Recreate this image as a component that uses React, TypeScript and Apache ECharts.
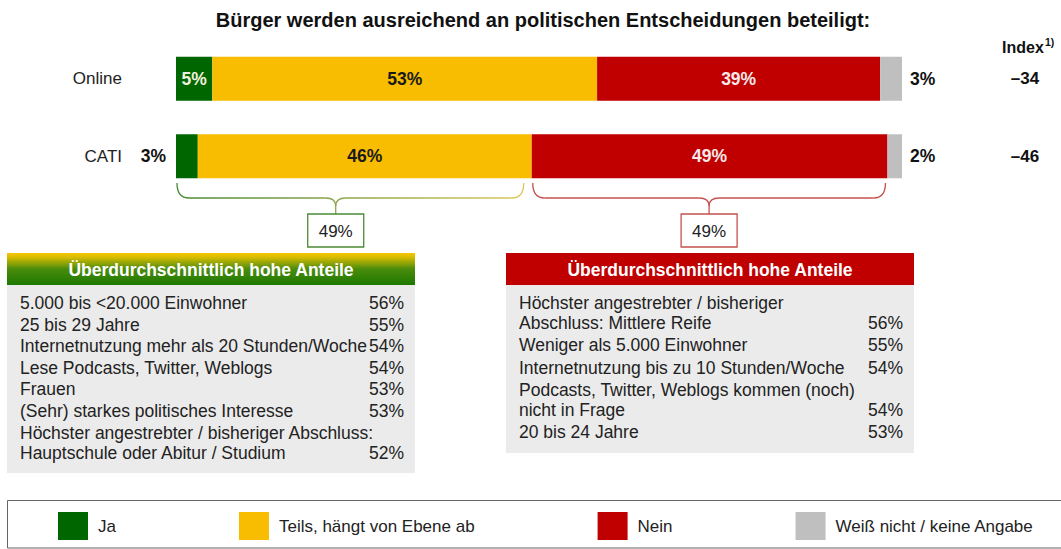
import React, { useEffect, useRef } from "react";
import * as echarts from "echarts";

const FONT = "'Liberation Sans', Arial, Helvetica, sans-serif";

const title = "Bürger werden ausreichend an politischen Entscheidungen beteiligt:";
const categories = ["Online", "CATI"];
const seriesNames = ["Ja", "Teils, hängt von Ebene ab", "Nein", "Weiß nicht / keine Angabe"];
const jaValues = [5, 3];
const teilsValues = [53, 46];
const neinValues = [39, 49];
const wnValues = [3, 2];
const indexValues = ["–34", "–46"];
const indexTitle = "Index";
const indexNote = "1)";

const braceLeftLabel = "49%";
const braceRightLabel = "49%";

const boxTitle = "Überdurchschnittlich hohe Anteile";
const leftItems = [
  "5.000 bis <20.000 Einwohner",
  "25 bis 29 Jahre",
  "Internetnutzung mehr als 20 Stunden/Woche",
  "Lese Podcasts, Twitter, Weblogs",
  "Frauen",
  "(Sehr) starkes politisches Interesse",
  "Höchster angestrebter / bisheriger Abschluss:\nHauptschule oder Abitur / Studium",
];
const leftValues = ["56%", "55%", "54%", "54%", "53%", "53%", "52%"];
const rightItems = [
  "Höchster angestrebter / bisheriger\nAbschluss: Mittlere Reife",
  "Weniger als 5.000 Einwohner",
  "Internetnutzung bis zu 10 Stunden/Woche",
  "Podcasts, Twitter, Weblogs kommen (noch)\nnicht in Frage",
  "20 bis 24 Jahre",
];
const rightValues = ["56%", "55%", "54%", "54%", "53%"];

const COLORS = ["#006600", "#f8bd00", "#c00000", "#bfbfbf"];

export default function App() {
  const ref = useRef<HTMLDivElement>(null);

  useEffect(() => {
    if (!ref.current) return;
    const chart = echarts.init(ref.current, null, { renderer: "svg" });

    const labelBase = {
      show: true,
      formatter: "{c}%",
      fontFamily: FONT,
      fontWeight: "bold" as const,
      fontSize: 17.5,
    };

    const jaData = jaValues.map((v) =>
      v < 4
        ? { value: v, label: { position: "left", distance: 10, color: "#111" } }
        : { value: v }
    );

    chart.setOption({
      animation: false,
      textStyle: { fontFamily: FONT },
      grid: { left: 176, right: 159, top: 40, height: 155 },
      xAxis: { type: "value", min: 0, max: 100, show: false },
      yAxis: [
        {
          type: "category",
          data: categories,
          inverse: true,
          axisLine: { show: false },
          axisTick: { show: false },
          axisLabel: { fontSize: 17, color: "#222", margin: 54, fontFamily: FONT },
        },
        {
          type: "category",
          data: categories,
          inverse: true,
          position: "right",
          axisLine: { show: false },
          axisTick: { show: false },
          axisLabel: {
            fontSize: 17,
            fontWeight: "bold",
            color: "#111",
            margin: 123,
            align: "center",
            fontFamily: FONT,
            formatter: (_v: string, i: number) => indexValues[i],
          },
        },
      ],
      legend: {
        data: seriesNames,
        left: 53,
        top: 507,
        itemWidth: 30,
        itemHeight: 28,
        itemGap: 123,
        icon: "rect",
        selectedMode: false,
        textStyle: { fontSize: 17, color: "#222", fontFamily: FONT, padding: [0, 0, 0, 5] },
      },
      series: [
        {
          name: seriesNames[0],
          type: "bar",
          stack: "t",
          barWidth: 44,
          data: jaData,
          itemStyle: { color: COLORS[0] },
          label: { ...labelBase, position: "inside", color: "#f0f0dc" },
        },
        {
          name: seriesNames[1],
          type: "bar",
          stack: "t",
          barWidth: 44,
          data: teilsValues,
          itemStyle: { color: COLORS[1] },
          label: { ...labelBase, position: "inside", color: "#1a1a1a" },
        },
        {
          name: seriesNames[2],
          type: "bar",
          stack: "t",
          barWidth: 44,
          data: neinValues,
          itemStyle: { color: COLORS[2] },
          label: { ...labelBase, position: "inside", color: "#f6eaea" },
        },
        {
          name: seriesNames[3],
          type: "bar",
          stack: "t",
          barWidth: 44,
          data: wnValues,
          itemStyle: { color: COLORS[3] },
          label: { ...labelBase, position: "right", distance: 8, color: "#111" },
        },
      ],
    });

    const px = (v: number) => chart.convertToPixel({ xAxisIndex: 0 }, v) as number;

    const catiIdx = 1;
    const leftEnd = jaValues[catiIdx] + teilsValues[catiIdx];
    const rightEnd = leftEnd + neinValues[catiIdx];

    const yTop = 183;
    const yMid = 198;
    const yCusp = 206;
    const yEnd = 214;

    const brace = (x1: number, x2: number, tip: number, stroke: any) => {
      const st = { stroke, lineWidth: 1.3, fill: null };
      return [
        { type: "bezierCurve", shape: { x1, y1: yTop, cpx1: x1, cpy1: yMid, x2: x1 + 12, y2: yMid }, style: st },
        { type: "line", shape: { x1: x1 + 12, y1: yMid, x2: tip - 10, y2: yMid }, style: st },
        { type: "bezierCurve", shape: { x1: tip - 10, y1: yMid, cpx1: tip, cpy1: yMid, x2: tip, y2: yCusp }, style: st },
        { type: "bezierCurve", shape: { x1: tip, y1: yCusp, cpx1: tip, cpy1: yMid, x2: tip + 10, y2: yMid }, style: st },
        { type: "line", shape: { x1: tip + 10, y1: yMid, x2: x2 - 12, y2: yMid }, style: st },
        { type: "bezierCurve", shape: { x1: x2 - 12, y1: yMid, cpx1: x2, cpy1: yMid, x2: x2, y2: yTop }, style: st },
        { type: "line", shape: { x1: tip, y1: yCusp, x2: tip, y2: yEnd }, style: st },
      ];
    };

    const gx1 = px(0) + 1;
    const gx2 = px(leftEnd) - 8;
    const gTip = px(22);
    const rx1 = px(leftEnd) + 1;
    const rx2 = px(rightEnd) - 2;
    const rTip = (rx1 + rx2) / 2;

    const greenStroke = {
      type: "linear",
      x: gx1,
      y: 0,
      x2: gx2,
      y2: 0,
      global: true,
      colorStops: [
        { offset: 0, color: "#4a8a35" },
        { offset: 0.5, color: "#8fa648" },
        { offset: 1, color: "#ddc95e" },
      ],
    };
    const redStroke = "#c4514e";

    const valueBox = (cx: number, label: string, stroke: any) => [
      {
        type: "rect",
        shape: { x: cx - 28, y: 214, width: 56, height: 33 },
        style: { fill: "#fff", stroke, lineWidth: 1.3 },
      },
      {
        type: "text",
        x: cx,
        y: 231,
        style: { text: label, fontSize: 17, fontFamily: FONT, fill: "#222", align: "center", verticalAlign: "middle" },
      },
    ];

    const textStyle = (extra: any) => ({ fontSize: 17.5, fontFamily: FONT, fill: "#222", verticalAlign: "middle", ...extra });

    const listTexts = (items: string[], values: string[], xL: number, xR: number, y0: number, itemGap: number, lineGap: number) => {
      const out: any[] = [];
      let y = y0;
      items.forEach((it, i) => {
        const lines = it.split("\n");
        lines.forEach((ln, j) => {
          if (j > 0) y += lineGap;
          out.push({ type: "text", x: xL, y, style: textStyle({ text: ln, align: "left" }) });
        });
        out.push({ type: "text", x: xR, y, style: textStyle({ text: values[i], align: "right" }) });
        y += itemGap;
      });
      return out;
    };

    const headerGradient = {
      type: "linear",
      x: 0,
      y: 0,
      x2: 0,
      y2: 1,
      colorStops: [
        { offset: 0, color: "#f6c400" },
        { offset: 0.12, color: "#dcbd00" },
        { offset: 0.5, color: "#4a8c0c" },
        { offset: 1, color: "#1c7800" },
      ],
    };

    const graphic: any[] = [
      {
        type: "text",
        x: 543,
        y: 20,
        style: { text: title, fontSize: 20, fontWeight: "bold", fontFamily: FONT, fill: "#111", align: "center", verticalAlign: "middle" },
      },
      {
        type: "text",
        x: 1002,
        y: 47,
        style: { text: indexTitle, fontSize: 16, fontWeight: "bold", fontFamily: FONT, fill: "#111", align: "left", verticalAlign: "middle" },
      },
      {
        type: "text",
        x: 1045,
        y: 42,
        style: { text: indexNote, fontSize: 10.5, fontWeight: "bold", fontFamily: FONT, fill: "#111", align: "left", verticalAlign: "middle" },
      },
      ...brace(gx1, gx2, gTip, greenStroke),
      ...brace(rx1, rx2, rTip, redStroke),
      ...valueBox(gTip, braceLeftLabel, "#4a8a35"),
      ...valueBox(rTip, braceRightLabel, redStroke),
      { type: "rect", shape: { x: 7, y: 253, width: 408, height: 32 }, style: { fill: headerGradient } },
      { type: "rect", shape: { x: 7, y: 285, width: 408, height: 188 }, style: { fill: "#ebebeb" } },
      { type: "rect", shape: { x: 506, y: 253, width: 408, height: 32 }, style: { fill: "#c00000" } },
      { type: "rect", shape: { x: 506, y: 285, width: 408, height: 168 }, style: { fill: "#ebebeb" } },
      {
        type: "text",
        x: 211,
        y: 270,
        style: { text: boxTitle, fontSize: 17.5, fontWeight: "bold", fontFamily: FONT, fill: "#fff", align: "center", verticalAlign: "middle" },
      },
      {
        type: "text",
        x: 710,
        y: 270,
        style: { text: boxTitle, fontSize: 17.5, fontWeight: "bold", fontFamily: FONT, fill: "#fff", align: "center", verticalAlign: "middle" },
      },
      ...listTexts(leftItems, leftValues, 20, 404, 303, 21.6, 20),
      ...listTexts(rightItems, rightValues, 519, 903, 303, 22.5, 19.5),
      {
        type: "rect",
        shape: { x: 7.5, y: 500.5, width: 1060, height: 47.5 },
        style: { fill: null, stroke: "#666", lineWidth: 1 },
      },
    ];

    chart.setOption({ graphic });

    return () => chart.dispose();
  }, []);

  return (
    <div
      ref={ref}
      style={{ position: "fixed", left: 0, top: 0, width: 1061, height: 549, background: "#fff" }}
    />
  );
}
